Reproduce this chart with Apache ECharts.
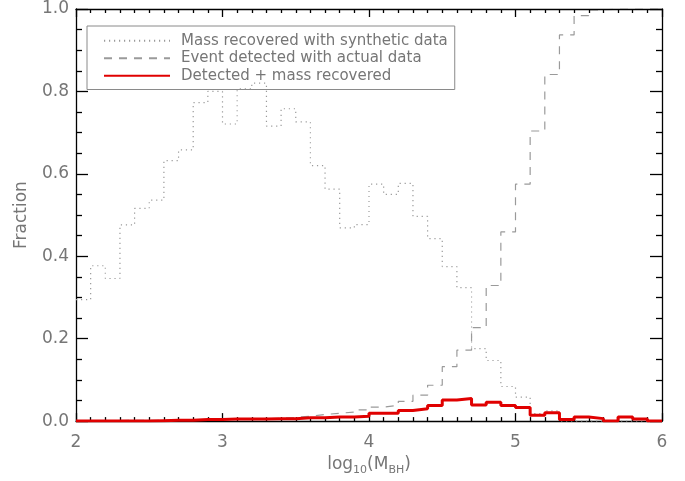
<!DOCTYPE html>
<html>
<head>
<meta charset="utf-8">
<script src="https://cdn.jsdelivr.net/npm/echarts@6/dist/echarts.min.js"></script>
<style>
  html, body { margin: 0; padding: 0; background: #fff; }
  #chart { width: 685px; height: 481px; }
</style>
</head>
<body>
<div id="chart"></div>
<script>
// Left edges of the 0.1-dex histogram bins in log10(M_BH)
const binEdges = [
  2.0, 2.1, 2.2, 2.3, 2.4, 2.5, 2.6, 2.7, 2.8, 2.9,
  3.0, 3.1, 3.2, 3.3, 3.4, 3.5, 3.6, 3.7, 3.8, 3.9,
  4.0, 4.1, 4.2, 4.3, 4.4, 4.5, 4.6, 4.7, 4.8, 4.9,
  5.0, 5.1, 5.2, 5.3, 5.4, 5.5, 5.6, 5.7, 5.8, 5.9
];
const binEnd = 6.0;

// Fraction with mass recovered from synthetic data
const massRecovered = [
  0.295, 0.377, 0.346, 0.476, 0.516, 0.536, 0.632, 0.658, 0.773, 0.800,
  0.721, 0.806, 0.820, 0.716, 0.758, 0.726, 0.620, 0.563, 0.469, 0.477,
  0.575, 0.550, 0.577, 0.497, 0.443, 0.375, 0.324, 0.176, 0.147, 0.084,
  0.058, 0.018, 0.025, 0.000, 0.000, 0.000, 0.000, 0.000, 0.000, 0.000
];

// Fraction of events detected with actual data
const eventDetected = [
  0.001, 0.001, 0.001, 0.002, 0.002, 0.002, 0.003, 0.003, 0.003, 0.004,
  0.005, 0.005, 0.006, 0.007, 0.009, 0.012, 0.016, 0.019, 0.022, 0.027,
  0.034, 0.038, 0.048, 0.063, 0.087, 0.132, 0.172, 0.227, 0.329, 0.459,
  0.575, 0.704, 0.841, 0.937, 0.984, 0.998, 1.000, 1.000, 1.000, 1.000
];

// Fraction both detected and with mass recovered
const detectedRecovered = [
  0.000, 0.000, 0.000, 0.000, 0.000, 0.001, 0.002, 0.002, 0.004, 0.004,
  0.005, 0.005, 0.005, 0.006, 0.006, 0.008, 0.008, 0.010, 0.010, 0.012,
  0.019, 0.019, 0.026, 0.030, 0.038, 0.051, 0.055, 0.039, 0.046, 0.038,
  0.033, 0.014, 0.020, 0.004, 0.010, 0.006, 0.000, 0.010, 0.005, 0.000
];

const seriesNames = [
  'Mass recovered with synthetic data',
  'Event detected with actual data',
  'Detected + mass recovered'
];

// Step histogram points: each bin's value held from its left edge to the next edge
function stepPoints(values) {
  const pts = binEdges.map((x, i) => [x, values[i]]);
  pts.push([binEnd, values[values.length - 1]]);
  return pts;
}

const textGray = '#767676';
const fontFam = '"DejaVu Sans", sans-serif';

const chart = echarts.init(document.getElementById('chart'), null, { renderer: 'canvas' });

const tickStyle = { color: '#000', width: 1.3 };
const baseAxis = {
  axisLine: { show: true, onZero: false, lineStyle: { color: '#000', width: 1.3 } },
  splitLine: { show: false },
  minorSplitLine: { show: false }
};

chart.setOption({
  animation: false,
  backgroundColor: '#fff',
  grid: { left: 76, right: 23, top: 9, bottom: 56, containLabel: false },
  legend: {
    orient: 'vertical',
    left: 87,
    top: 26,
    padding: [6, 7, 5, 16],
    itemWidth: 66,
    itemHeight: 10,
    itemGap: 0,
    borderColor: '#8a8a8a',
    borderWidth: 1,
    backgroundColor: 'transparent',
    selectedMode: false,
    itemStyle: { opacity: 0 },
    textStyle: { color: textGray, fontFamily: fontFam, fontSize: 15, lineHeight: 17.5, padding: [0, 0, 0, 6] },
    data: seriesNames
  },
  xAxis: [
    Object.assign({}, baseAxis, {
      type: 'value', position: 'bottom',
      min: 2, max: 6, interval: 1,
      axisTick: { show: true, inside: true, length: 8, lineStyle: tickStyle },
      minorTick: { show: true, splitNumber: 10, length: 4, lineStyle: tickStyle },
      axisLabel: { color: textGray, fontFamily: fontFam, fontSize: 17, margin: 13 },
      name: '{a|log}{s|10}{a|(M}{s|BH}{a|)}',
      nameLocation: 'middle',
      nameGap: 33,
      nameTextStyle: {
        rich: {
          a: { color: textGray, fontFamily: fontFam, fontSize: 17, lineHeight: 22, verticalAlign: 'top' },
          s: { color: textGray, fontFamily: fontFam, fontSize: 11, lineHeight: 22, verticalAlign: 'top', padding: [9, 0, 0, 0] }
        }
      }
    }),
    Object.assign({}, baseAxis, {
      type: 'value', position: 'top',
      min: 2, max: 6, interval: 1,
      z: 10,
      axisTick: { show: true, inside: true, length: 8, lineStyle: tickStyle },
      minorTick: { show: true, splitNumber: 10, length: 4, lineStyle: tickStyle },
      axisLabel: { show: false }
    })
  ],
  yAxis: [
    Object.assign({}, baseAxis, {
      type: 'value', position: 'left',
      min: 0, max: 1, interval: 0.2,
      axisTick: { show: true, inside: true, length: 12, lineStyle: tickStyle },
      minorTick: { show: true, splitNumber: 4, length: 6, lineStyle: tickStyle },
      axisLabel: {
        color: textGray, fontFamily: fontFam, fontSize: 17, margin: 7,
        formatter: v => v.toFixed(1)
      },
      name: 'Fraction',
      nameLocation: 'middle',
      nameGap: 46,
      nameTextStyle: { color: textGray, fontFamily: fontFam, fontSize: 17 }
    }),
    Object.assign({}, baseAxis, {
      type: 'value', position: 'right',
      min: 0, max: 1, interval: 0.2,
      axisTick: { show: true, inside: true, length: 12, lineStyle: tickStyle },
      minorTick: { show: true, splitNumber: 4, length: 6, lineStyle: tickStyle },
      axisLabel: { show: false }
    })
  ],
  series: [
    {
      name: seriesNames[0],
      type: 'line',
      step: 'end',
      showSymbol: false,
      symbol: 'none',
      data: stepPoints(massRecovered),
      lineStyle: { color: '#9a9a9a', width: 1.2, type: [1.2, 3.8] },
      itemStyle: { color: '#9a9a9a' },
      z: 2
    },
    {
      name: seriesNames[1],
      type: 'line',
      step: 'end',
      showSymbol: false,
      symbol: 'none',
      data: stepPoints(eventDetected),
      lineStyle: { color: '#9a9a9a', width: 1.2, type: [8, 7] },
      itemStyle: { color: '#9a9a9a' },
      z: 3
    },
    {
      name: seriesNames[2],
      type: 'line',
      step: 'end',
      showSymbol: false,
      symbol: 'none',
      data: stepPoints(detectedRecovered),
      lineStyle: { color: '#e00000', width: 3 },
      itemStyle: { color: '#e00000' },
      z: 4
    }
  ]
});
</script>
</body>
</html>
